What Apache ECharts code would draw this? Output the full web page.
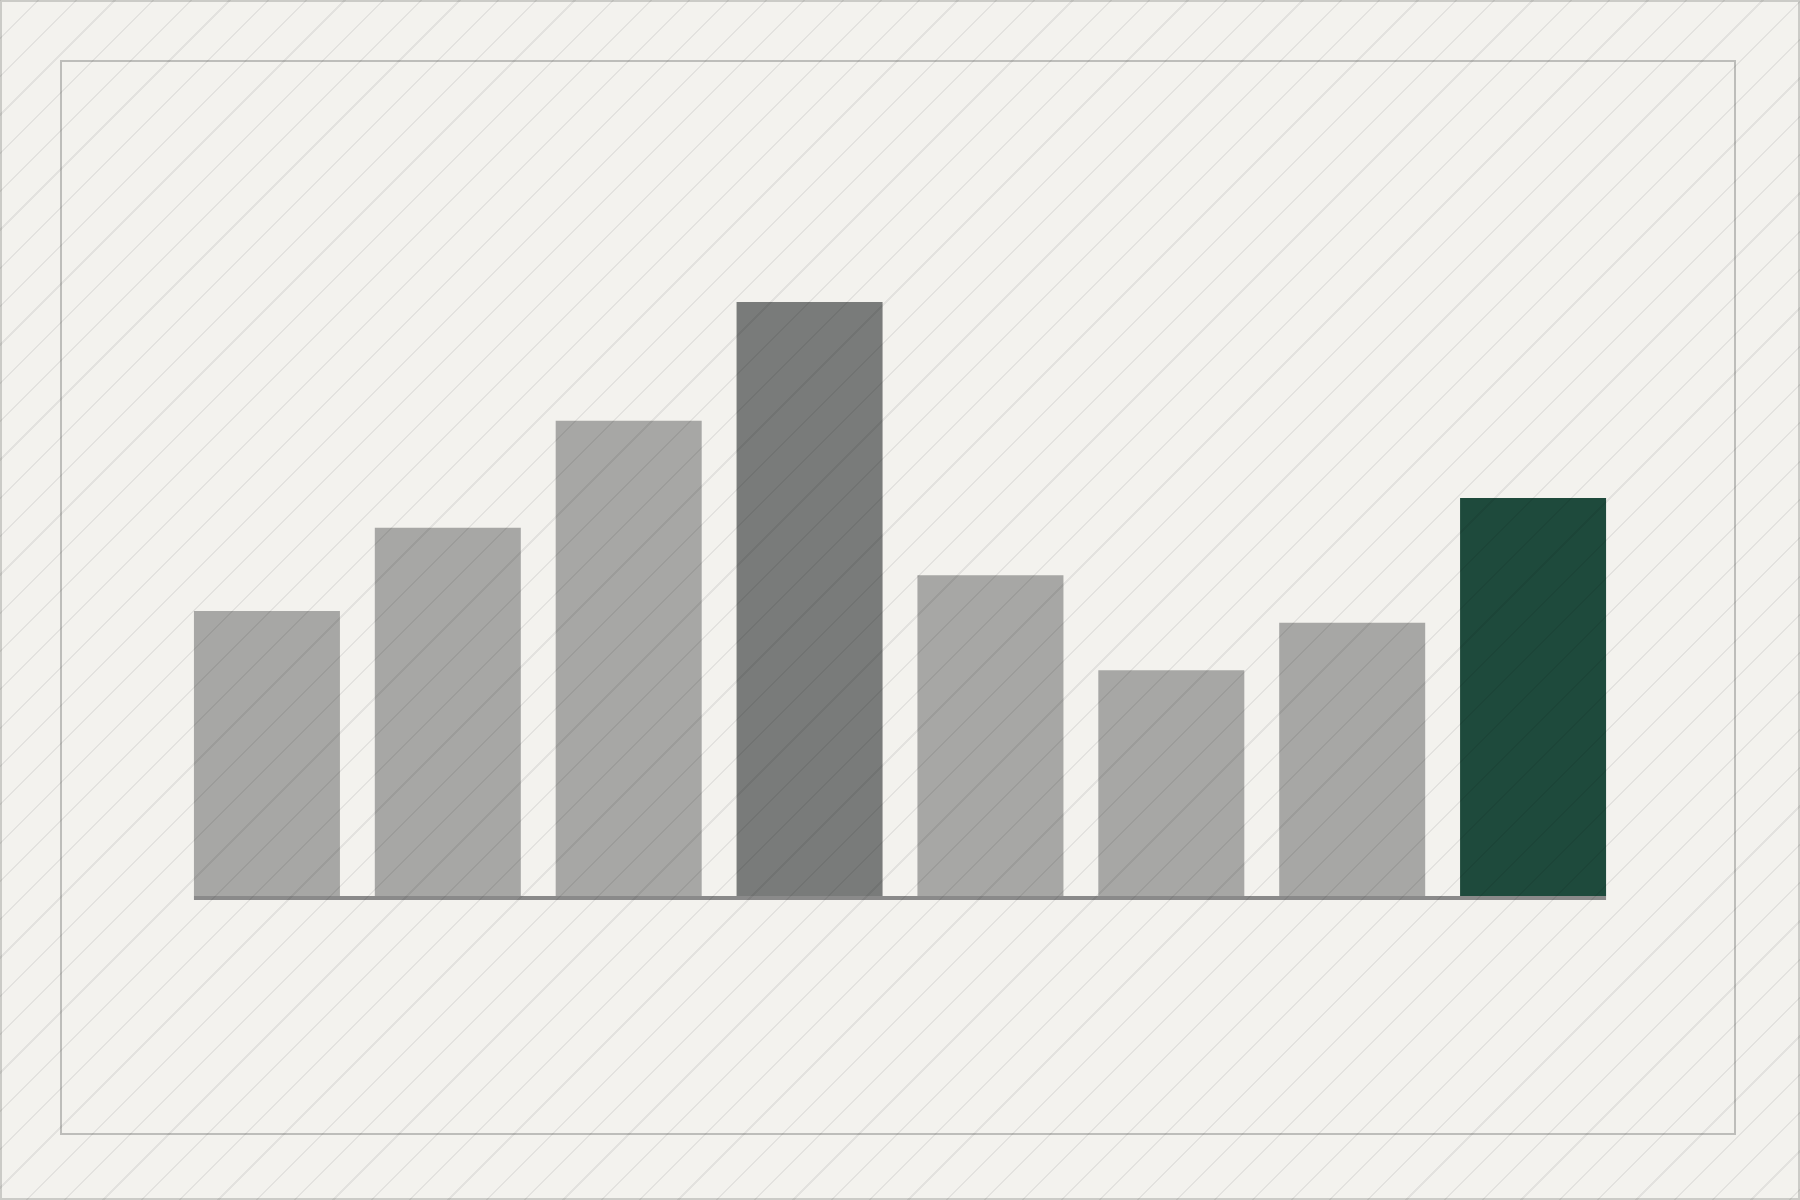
<!DOCTYPE html>
<html>
<head>
    <meta charset="utf-8">
    <title>ECharts</title>
    <script src="https://cdn.jsdelivr.net/npm/echarts@6/dist/echarts.min.js"></script>
    <style>
        html, body { margin: 0; padding: 0; background: #f3f2ee; }
        #wrap { position: relative; width: 1800px; height: 1200px; }
        #main { width: 1800px; height: 1200px; }
        /* diagonal hatch laid over the whole picture */
        #hatch {
            position: absolute; left: 0; top: 0; width: 1800px; height: 1200px;
            pointer-events: none;
            background: repeating-linear-gradient(135deg,
                rgba(0,0,0,0.062) 0px, rgba(0,0,0,0.062) 0.8px,
                rgba(0,0,0,0) 0.8px, rgba(0,0,0,0) 26.3px,
                rgba(0,0,0,0.062) 26.3px, rgba(0,0,0,0.062) 27.1px);
        }
    </style>
</head>
<body>
    <div id="wrap">
        <div id="main"></div>
        <div id="hatch"></div>
    </div>
    <script type="text/javascript">
        // data (no labels shown on the chart)
        var categories = ['1', '2', '3', '4', '5', '6', '7', '8'];
        var values = [24, 31, 40, 50, 27, 19, 23, 33.5];

        var peakIndex = 3;      // darker grey bar
        var lastIndex = 7;      // green bar

        var myChart = echarts.init(document.getElementById('main'));

        var option = {
            backgroundColor: '#f3f2ee',
            animation: false,
            grid: {
                left: 176.5,
                right: 176.5,
                top: 183.2,
                bottom: 304
            },
            xAxis: {
                type: 'category',
                data: categories,
                axisLine: { show: false },
                axisTick: { show: false },
                axisLabel: { show: false },
                splitLine: { show: false }
            },
            yAxis: {
                type: 'value',
                min: 0,
                max: 60,
                show: false,
                splitLine: { show: false }
            },
            series: [{
                type: 'bar',
                data: values,
                barWidth: 146,
                itemStyle: {
                    color: function (p) {
                        if (p.dataIndex === lastIndex) return '#1e4a3c';
                        if (p.dataIndex === peakIndex) return '#797b7a';
                        return '#a7a7a5';
                    }
                }
            }],
            graphic: [
                {   // outer frame
                    type: 'rect',
                    shape: { x: 1, y: 1, width: 1798, height: 1198 },
                    style: { fill: 'none', stroke: '#cbcbc7', lineWidth: 2 },
                    silent: true
                },
                {   // inner frame
                    type: 'rect',
                    shape: { x: 61, y: 61, width: 1674, height: 1073 },
                    style: { fill: 'none', stroke: '#bdbdba', lineWidth: 2 },
                    silent: true
                }
            ]
        };

        myChart.setOption(option);

        // baseline only as wide as the bars
        var half = 73;
        var x0 = myChart.convertToPixel({ xAxisIndex: 0 }, categories[0]) - half;
        var x1 = myChart.convertToPixel({ xAxisIndex: 0 }, categories[categories.length - 1]) + half;
        var y0 = myChart.convertToPixel({ yAxisIndex: 0 }, 0);

        option.graphic.push({
            type: 'line',
            z: 100,
            shape: { x1: x0, y1: y0 + 2, x2: x1, y2: y0 + 2 },
            style: { stroke: '#8a8a8a', lineWidth: 4 },
            silent: true
        });
        myChart.setOption({ graphic: option.graphic });
    </script>
</body>
</html>
